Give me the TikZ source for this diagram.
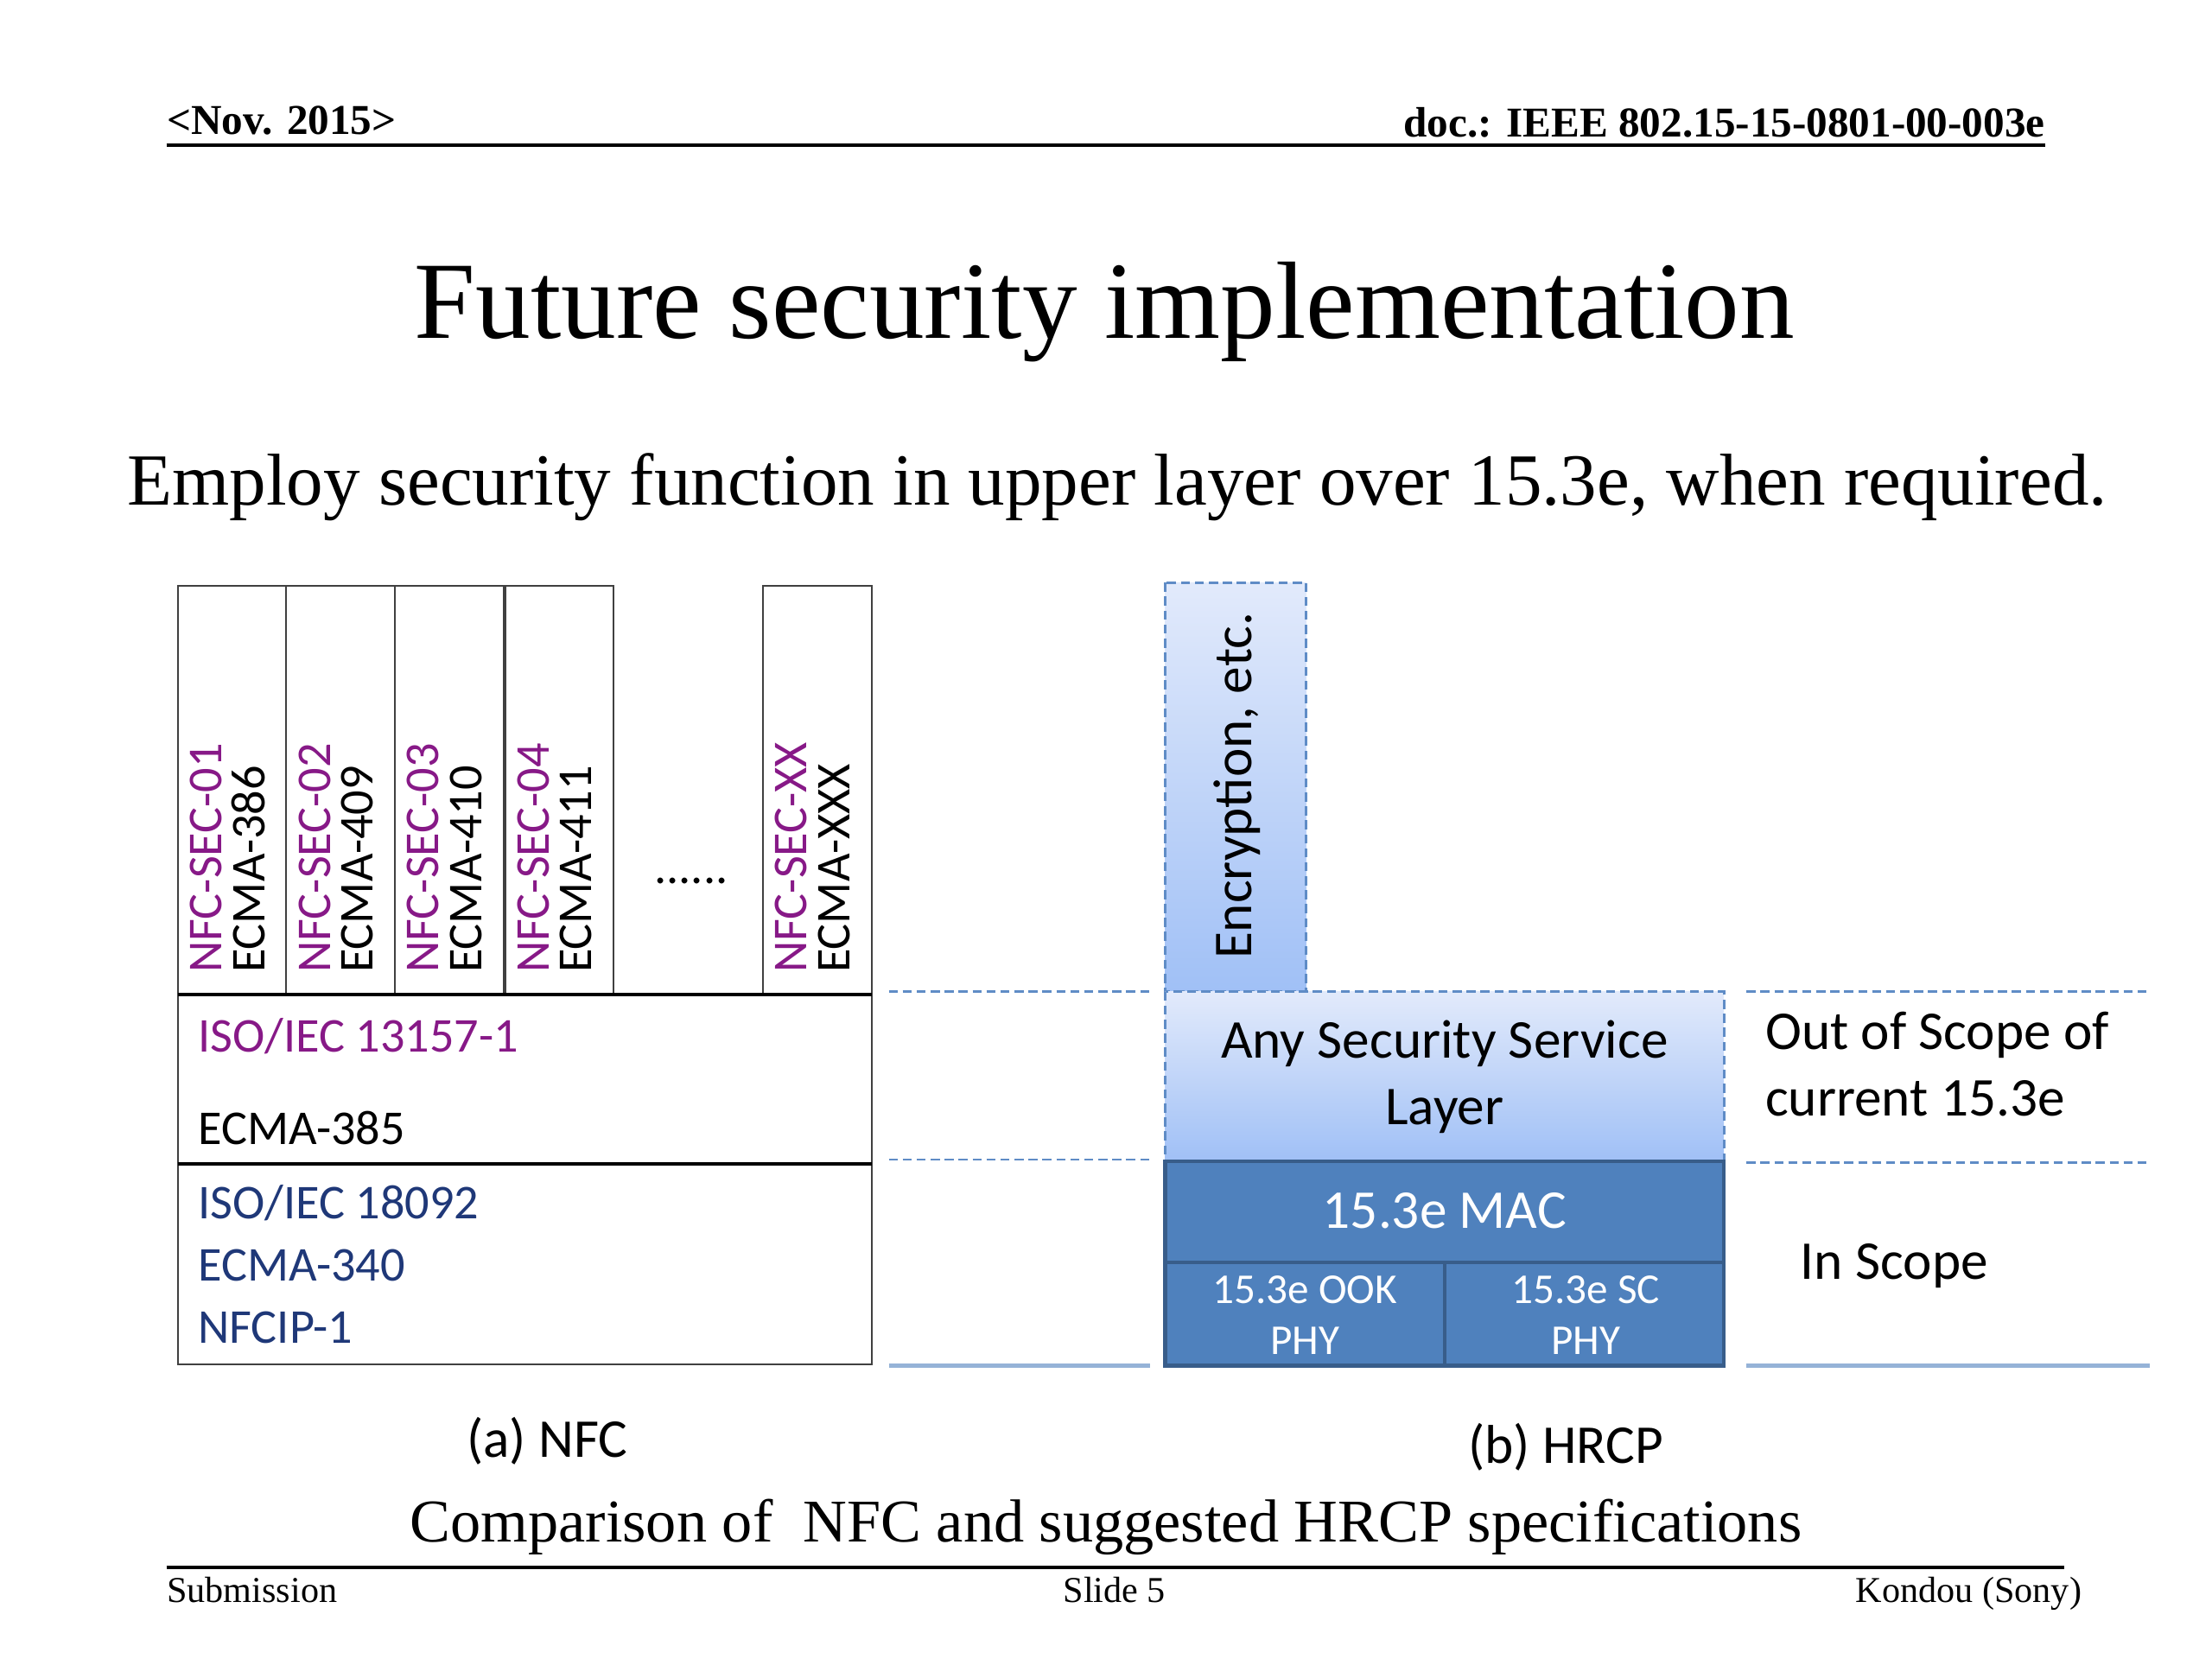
\documentclass[tikz,border=0pt]{standalone}
\usepackage{fontspec}
\setmainfont{Liberation Serif}
\newfontfamily\calibri{Carlito}
\usepackage{tikz}

\definecolor{nfcpurple}{RGB}{135,25,135}
\definecolor{nfcblue}{RGB}{31,56,120}
\definecolor{macblue}{RGB}{79,129,189}
\definecolor{macedge}{RGB}{56,93,138}
\definecolor{dashblue}{RGB}{95,140,198}
\definecolor{sectop}{RGB}{226,234,251}
\definecolor{secbot}{RGB}{160,192,246}
\definecolor{solidblue}{RGB}{149,179,215}

\begin{document}
\begin{tikzpicture}[x=0.016327cm,y=-0.016327cm,
	nfcbox/.style={draw=black!75,line width=0.6pt},
	nfclbl/.style={font=\calibri\fontsize{16}{19}\selectfont,anchor=base west,inner sep=0pt},
	hrcplbl/.style={font=\calibri\fontsize{18}{21.8}\selectfont,inner sep=0pt},
	seclayer/.style={draw=dashblue,dash pattern=on 3pt off 1.6pt,line width=0.8pt,top color=sectop,bottom color=secbot},
	macbox/.style={draw=macedge,line width=1.2pt,fill=macblue},
	scopedash/.style={draw=dashblue,dash pattern=on 3pt off 1.6pt,line width=0.8pt},
	scopesolid/.style={draw=solidblue,line width=1.2pt}]
	\useasboundingbox (0,0) rectangle (1568,1176);
	%\draw[help lines,step=100] (0,0) grid (1568,1176);

	% header
	\node[anchor=base west,inner sep=0pt,font=\bfseries\fontsize{14}{16}\selectfont] (date) at (118,95) {<Nov. 2015>};
	\node[anchor=base east,inner sep=0pt,font=\bfseries\fontsize{14}{16}\selectfont] (docid) at (1450,97) {doc.: IEEE 802.15-15-0801-00-003e};
	\draw[line width=1.3pt] (118,103) -- (1450,103);

	\node[anchor=base,inner sep=0pt,font=\fontsize{36.2}{40}\selectfont] (title) at (783,240) {Future security implementation};
	\node[anchor=base,inner sep=0pt,font=\fontsize{24.2}{28}\selectfont] (subtitle) at (792,358) {Employ security function in upper layer over 15.3e, when required.};

	% (a) NFC
	\foreach \x/\n/\e in {126/01/386,203/02/409,280/03/410,358/04/411,541/XX/XXX}{
		\draw[nfcbox] (\x,415) rectangle +(77,290);
		\node[nfclbl,rotate=90,text=nfcpurple] (sec\n) at (\x+31,690) {NFC-SEC-\n};
		\node[nfclbl,rotate=90] (ecma\e) at (\x+61.5,690) {ECMA-\e};
	}
	\node[nfclbl,anchor=base] (dots) at (490,626) {......};
	\draw[nfcbox] (126,705) rectangle (618,967);
	\draw[line width=1.3pt] (126,705) -- (618,705);
	\draw[line width=1.3pt] (126,825) -- (618,825);
	\node[nfclbl,text=nfcpurple] (iso13157) at (140,746) {ISO/IEC 13157-1};
	\node[nfclbl] (ecma385) at (140,811) {ECMA-385};
	\node[nfclbl,text=nfcblue] (iso18092) at (140,864) {ISO/IEC 18092};
	\node[nfclbl,text=nfcblue] (ecma340) at (140,908) {ECMA-340};
	\node[nfclbl,text=nfcblue] (nfcip) at (140,952) {NFCIP-1};
	\node[hrcplbl,anchor=base] (capa) at (388,1033) {(a) NFC};

	% (b) HRCP
	\draw[seclayer] (826,413) rectangle (926,703);
	\node[hrcplbl,rotate=90] (encr) at (877,557) {Encryption, etc.};
	\draw[seclayer] (826,703) rectangle (1222,823);
	\node[hrcplbl,anchor=base,align=center] (seclyr) at (1024,797) {Any Security Service\\Layer};
	\draw[macbox] (826,823) rectangle (1222,895);
	\node[hrcplbl,text=white] (mac) at (1024,858) {15.3e MAC};
	\draw[macbox] (826,895) rectangle (1024,968);
	\draw[macbox] (1024,895) rectangle (1222,968);
	\node[hrcplbl,anchor=base,align=center,text=white,font=\calibri\fontsize{14}{16.7}\selectfont] (ook) at (925,960) {15.3e OOK\\PHY};
	\node[hrcplbl,anchor=base,align=center,text=white,font=\calibri\fontsize{14}{16.7}\selectfont] (sc) at (1124,960) {15.3e SC\\PHY};

	% scope borders
	\draw[scopedash] (630,703) -- (815,703);
	\draw[scopedash] (630,822) -- (815,822);
	\draw[scopedash] (1238,703) -- (1524,703);
	\draw[scopedash] (1238,824) -- (1524,824);
	\draw[scopesolid] (630,968) -- (815,968);
	\draw[scopesolid] (1238,968) -- (1524,968);
	\node[hrcplbl,anchor=base west,align=left] (outscope) at (1251,791) {Out of Scope of\\current 15.3e};
	\node[hrcplbl,anchor=base west] (inscope) at (1276,907) {In Scope};
	\node[hrcplbl,anchor=base] (capb) at (1110,1037) {(b) HRCP};

	% caption and footer
	\node[anchor=base,inner sep=0pt,font=\fontsize{20}{24}\selectfont] (caption) at (784,1093) {Comparison of\ \ NFC and suggested HRCP specifications};
	\draw[line width=1.3pt] (118,1111) -- (1463,1111);
	\node[anchor=base west,inner sep=0pt,font=\fontsize{12}{14}\selectfont] (submission) at (118,1136) {Submission};
	\node[anchor=base,inner sep=0pt,font=\fontsize{12}{14}\selectfont] (slide) at (790,1136) {Slide 5};
	\node[anchor=base east,inner sep=0pt,font=\fontsize{12}{14}\selectfont] (author) at (1476,1136) {Kondou (Sony)};
\end{tikzpicture}
\end{document}
